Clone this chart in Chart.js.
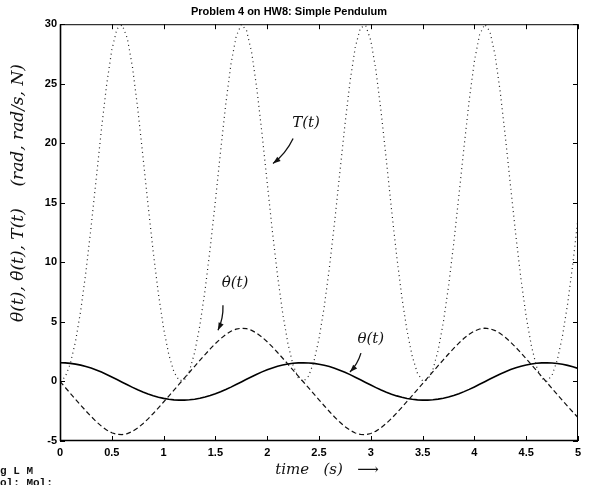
<!DOCTYPE html>
<html>
<head>
<meta charset="utf-8">
<script src="https://cdn.jsdelivr.net/npm/chart.js@4.4.0/dist/chart.umd.min.js"></script>
<style>
  html, body { margin: 0; padding: 0; background: #fff; }
</style>
</head>
<body>
<canvas id="pendulum" width="589" height="485"></canvas>
<script>
const time = [
  0, 0.05, 0.1, 0.15, 0.2, 0.25, 0.3, 0.35, 0.4, 0.45, 0.5, 0.55, 0.6, 0.65, 0.7, 0.75, 0.8, 0.85, 0.9, 0.95,
  1, 1.05, 1.1, 1.15, 1.2, 1.25, 1.3, 1.35, 1.4, 1.45, 1.5, 1.55, 1.6, 1.65, 1.7, 1.75, 1.8, 1.85, 1.9, 1.95,
  2, 2.05, 2.1, 2.15, 2.2, 2.25, 2.3, 2.35, 2.4, 2.45, 2.5, 2.55, 2.6, 2.65, 2.7, 2.75, 2.8, 2.85, 2.9, 2.95,
  3, 3.05, 3.1, 3.15, 3.2, 3.25, 3.3, 3.35, 3.4, 3.45, 3.5, 3.55, 3.6, 3.65, 3.7, 3.75, 3.8, 3.85, 3.9, 3.95,
  4, 4.05, 4.1, 4.15, 4.2, 4.25, 4.3, 4.35, 4.4, 4.45, 4.5, 4.55, 4.6, 4.65, 4.7, 4.75, 4.8, 4.85, 4.9, 4.95, 5
];

// theta(t), rad
const theta = [
  1.571, 1.558, 1.521, 1.458, 1.371, 1.259, 1.124, 0.966, 0.787, 0.591, 0.381, 0.162, -0.061, -0.283, -0.497, -0.700, -0.887, -1.055, -1.200, -1.323,
  -1.422, -1.495, -1.544, -1.568, -1.567, -1.541, -1.490, -1.414, -1.313, -1.188, -1.040, -0.871, -0.682, -0.478, -0.262, -0.040, 0.183, 0.401, 0.610, 0.804,
  0.981, 1.137, 1.270, 1.380, 1.465, 1.525, 1.560, 1.571, 1.556, 1.516, 1.451, 1.361, 1.248, 1.110, 0.950, 0.770, 0.572, 0.361, 0.142, -0.082,
  -0.303, -0.516, -0.718, -0.903, -1.069, -1.212, -1.333, -1.429, -1.500, -1.548, -1.569, -1.566, -1.537, -1.483, -1.405, -1.302, -1.175, -1.025, -0.854, -0.664,
  -0.458, -0.242, -0.020, 0.203, 0.421, 0.628, 0.821, 0.996, 1.150, 1.281, 1.388, 1.471, 1.530, 1.562, 1.570, 1.553, 1.511, 1.443, 1.352, 1.236, 1.096
];

// theta dot, rad/s
const thetaDot = [
  0, -0.500, -0.999, -1.498, -1.992, -2.475, -2.940, -3.372, -3.757, -4.075, -4.309, -4.443, -4.468, -4.383, -4.193, -3.911, -3.554, -3.142, -2.690, -2.214,
  -1.725, -1.228, -0.727, -0.227, 0.273, 0.773, 1.274, 1.770, 2.259, 2.733, 3.182, 3.590, 3.940, 4.214, 4.395, 4.470, 4.435, 4.291, 4.049, 3.725,
  3.335, 2.900, 2.433, 1.949, 1.455, 0.954, 0.454, -0.046, -0.546, -1.046, -1.547, -2.039, -2.521, -2.983, -3.411, -3.790, -4.100, -4.325, -4.450, -4.465,
  -4.369, -4.170, -3.881, -3.519, -3.103, -2.649, -2.171, -1.681, -1.186, -0.681, -0.181, 0.319, 0.819, 1.323, 1.817, 2.305, 2.777, 3.222, 3.625, 3.969,
  4.235, 4.406, 4.472, 4.426, 4.273, 4.023, 3.692, 3.298, 2.859, 2.390, 1.905, 1.412, 0.908, 0.408, -0.092, -0.592, -1.092, -1.594, -2.085, -2.565, -3.024
];

// string tension T(t), N
const tension = [
  0, 0.37, 1.50, 3.37, 5.95, 9.19, 12.97, 17.06, 21.17, 24.91, 27.84, 29.61, 29.94, 28.81, 26.37, 22.94, 18.95, 14.81, 10.86, 7.35,
  4.46, 2.26, 0.79, 0.08, 0.11, 0.90, 2.44, 4.70, 7.65, 11.21, 15.18, 19.33, 23.29, 26.64, 28.97, 29.98, 29.50, 27.62, 24.59, 20.81,
  16.69, 12.61, 8.88, 5.70, 3.18, 1.36, 0.31, 0.00, 0.45, 1.64, 3.59, 6.24, 9.53, 13.34, 17.45, 21.54, 25.22, 28.06, 29.70, 29.90,
  28.64, 26.09, 22.60, 18.58, 14.44, 10.52, 7.07, 4.24, 2.11, 0.70, 0.05, 0.15, 1.01, 2.62, 4.95, 7.97, 11.57, 15.57, 19.71, 23.63,
  26.90, 29.12, 29.99, 29.39, 27.39, 24.27, 20.44, 16.31, 12.26, 8.57, 5.44, 2.99, 1.24, 0.25, 0.01, 0.53, 1.79, 3.81, 6.52, 9.87, 13.72
];

const xTicks = [0, 0.5, 1, 1.5, 2, 2.5, 3, 3.5, 4, 4.5, 5];
const yTicks = [-5, 0, 5, 10, 15, 20, 25, 30];

// hand-written notes on the printout, placed in data units
const notes = [
  { text: 'T(t)', at: [2.375, 21.7], from: [2.25, 20.4], to: [2.056, 18.3] },
  { text: 'θ\u0307(t)', at: [1.69, 8.3], from: [1.573, 6.4], to: [1.525, 4.3] },
  { text: 'θ(t)', at: [3.0, 3.55], from: [2.905, 2.38], to: [2.799, 0.79] }
];

const pts = ys => time.map((t, i) => ({ x: t, y: ys[i] }));
const tickFont = { family: '"Liberation Sans", Arial, sans-serif', size: 11, weight: 'bold' };
const handFont = 'italic 15px "DejaVu Serif", serif';

function arrow(ctx, x1, y1, x2, y2) {
  const mx = (x1 + x2) / 2 + (y2 - y1) * 0.12;
  const my = (y1 + y2) / 2 - (x2 - x1) * 0.12;
  ctx.beginPath();
  ctx.moveTo(x1, y1);
  ctx.quadraticCurveTo(mx, my, x2, y2);
  ctx.stroke();
  const a = Math.atan2(y2 - my, x2 - mx);
  ctx.beginPath();
  ctx.moveTo(x2, y2);
  ctx.lineTo(x2 - 8 * Math.cos(a - 0.35), y2 - 8 * Math.sin(a - 0.35));
  ctx.lineTo(x2 - 8 * Math.cos(a + 0.35), y2 - 8 * Math.sin(a + 0.35));
  ctx.closePath();
  ctx.fill();
}

const printout = {
  id: 'printout',
  afterDraw(chart) {
    const { ctx, chartArea: a, scales: { x, y } } = chart;
    ctx.save();
    ctx.strokeStyle = '#000';
    ctx.fillStyle = '#000';

    // axes box with inward ticks
    ctx.lineWidth = 1;
    ctx.strokeRect(a.left + 0.5, a.top + 0.5, a.right - a.left - 1, a.bottom - a.top - 1);
    ctx.lineWidth = 1.6;
    ctx.beginPath();
    ctx.moveTo(a.left + 0.5, a.top);
    ctx.lineTo(a.left + 0.5, a.bottom);
    ctx.moveTo(a.left, a.bottom - 0.5);
    ctx.lineTo(a.right, a.bottom - 0.5);
    ctx.stroke();
    ctx.lineWidth = 1;
    ctx.beginPath();
    xTicks.forEach(v => {
      const px = Math.round(x.getPixelForValue(v)) + 0.5;
      ctx.moveTo(px, a.bottom); ctx.lineTo(px, a.bottom - 5);
      ctx.moveTo(px, a.top); ctx.lineTo(px, a.top + 5);
    });
    yTicks.forEach(v => {
      const py = Math.round(y.getPixelForValue(v)) + 0.5;
      ctx.moveTo(a.left, py); ctx.lineTo(a.left + 5, py);
      ctx.moveTo(a.right, py); ctx.lineTo(a.right - 5, py);
    });
    ctx.stroke();

    // pen notes
    ctx.fillStyle = '#111';
    ctx.strokeStyle = '#111';
    ctx.lineWidth = 1.3;
    ctx.font = handFont;
    ctx.textAlign = 'center';
    ctx.textBaseline = 'middle';
    notes.forEach(n => {
      ctx.fillText(n.text, x.getPixelForValue(n.at[0]), y.getPixelForValue(n.at[1]));
      arrow(ctx, x.getPixelForValue(n.from[0]), y.getPixelForValue(n.from[1]),
        x.getPixelForValue(n.to[0]), y.getPixelForValue(n.to[1]));
    });

    ctx.fillText('time   (s)   \u27F6', 327, 470);

    ctx.save();
    ctx.font = 'italic 17px "DejaVu Serif", serif';
    ctx.translate(19, 193);
    ctx.rotate(-Math.PI / 2);
    ctx.fillText('θ(t), θ\u0307(t), T(t)    (rad, rad/s, N)', 0, 0);
    ctx.restore();

    // bits of the source listing showing at the page edge
    ctx.font = 'bold 11px "Liberation Mono", monospace';
    ctx.textAlign = 'left';
    ctx.fillText('g L M', 0, 471);
    ctx.fillText('ol: Mol;', 0, 483);
    ctx.restore();
  }
};

new Chart(document.getElementById('pendulum'), {
  type: 'line',
  data: {
    datasets: [
      {
        label: 'T(t)',
        data: pts(tension),
        borderColor: '#222',
        borderWidth: 1.2,
        borderDash: [1, 3.5],
        pointRadius: 0,
        tension: 0,
      },
      {
        label: 'theta dot',
        data: pts(thetaDot),
        borderColor: '#111',
        borderWidth: 1.2,
        borderDash: [5, 3],
        pointRadius: 0,
        tension: 0,
      },
      {
        label: 'theta',
        data: pts(theta),
        borderColor: '#000',
        borderWidth: 1.6,
        pointRadius: 0,
        tension: 0,
      },
    ],
  },
  options: {
    responsive: false,
    animation: false,
    layout: { padding: { left: 0, right: 11, top: 0, bottom: 0 } },
    scales: {
      x: {
        type: 'linear',
        min: 0,
        max: 5,
        afterBuildTicks: s => { s.ticks = xTicks.map(v => ({ value: v })); },
        afterFit: s => { s.height = 44; },
        grid: { display: false, drawTicks: false },
        border: { display: false },
        ticks: { font: tickFont, color: '#000', padding: 5, maxRotation: 0, autoSkip: false, callback: v => String(v) },
      },
      y: {
        min: -5,
        max: 30,
        afterBuildTicks: s => { s.ticks = yTicks.map(v => ({ value: v })); },
        afterFit: s => { s.width = 60; },
        grid: { display: false, drawTicks: false },
        border: { display: false },
        ticks: { font: tickFont, color: '#000', padding: 3, callback: v => String(v) },
      },
    },
    plugins: {
      legend: { display: false },
      tooltip: { enabled: false },
      title: {
        display: true,
        text: 'Problem 4 on HW8: Simple Pendulum',
        color: '#000',
        font: { family: '"Liberation Sans", Arial, sans-serif', size: 11, weight: 'bold' },
        padding: { top: 5, bottom: 6 },
      },
    },
  },
  plugins: [printout],
});
</script>
</body>
</html>
